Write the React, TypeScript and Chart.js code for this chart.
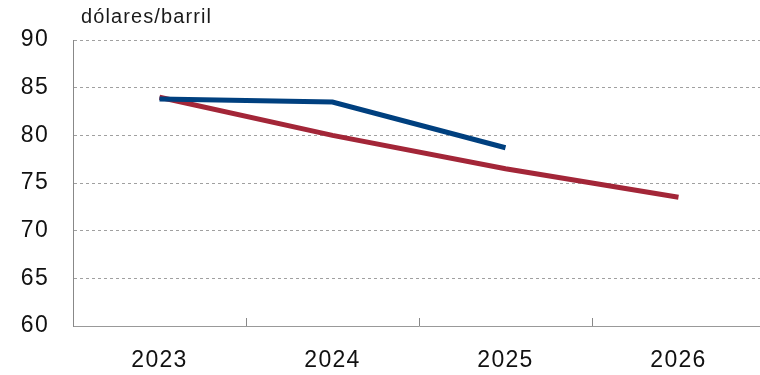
import React, { useEffect, useRef } from "react";
import { Chart, registerables } from "chart.js";

Chart.register(...registerables);

const categories = ["2023", "2024", "2025", "2026"];
const blueSeries = [83.8, 83.5, 78.7, null];
const redSeries = [84.0, 80.0, 76.5, 73.5];
const yTicks = [60, 65, 70, 75, 80, 85, 90];
const unitLabel = "dólares/barril";

const FONT = "'Liberation Sans', Arial, Helvetica, sans-serif";
const SPACING = "1.3px";

const spacingPlugin = {
  id: "spacing",
  beforeDraw(chart: any) {
    (chart.ctx as any).letterSpacing = SPACING;
  },
};

const extrasPlugin = {
  id: "extras",
  afterDraw(chart: any) {
    const { ctx, chartArea, scales } = chart;
    const x = scales.x;
    ctx.save();
    ctx.strokeStyle = "#888";
    ctx.lineWidth = 1;
    for (let i = 1; i < categories.length; i++) {
      const px = Math.round(x.getPixelForValue(i - 0.5)) + 0.5;
      ctx.beginPath();
      ctx.moveTo(px, chartArea.bottom);
      ctx.lineTo(px, chartArea.bottom - 8);
      ctx.stroke();
    }
    (ctx as any).letterSpacing = "1.1px";
    ctx.fillStyle = "#1a1a1a";
    ctx.font = "20px " + FONT;
    ctx.textBaseline = "alphabetic";
    ctx.textAlign = "left";
    ctx.fillText(unitLabel, chartArea.left + 8, chartArea.top - 17);
    ctx.restore();
  },
};

export default function App() {
  const ref = useRef<HTMLCanvasElement | null>(null);
  useEffect(() => {
    if (!ref.current) return;
    const chart = new Chart(ref.current, {
      type: "line",
      data: {
        labels: categories,
        datasets: [
          {
            data: blueSeries,
            borderColor: "#00407f",
            borderWidth: 5,
            pointRadius: 0,
            tension: 0,
            fill: false,
          },
          {
            data: redSeries,
            borderColor: "#a32638",
            borderWidth: 5,
            pointRadius: 0,
            tension: 0,
            fill: false,
          },
        ],
      },
      options: {
        responsive: false,
        animation: false,
        layout: { padding: { top: 40, right: 5, left: 0, bottom: 0 } },
        plugins: { legend: { display: false }, tooltip: { enabled: false }, title: { display: false } },
        scales: {
          x: {
            offset: true,
            grid: { display: false, drawTicks: false },
            border: { display: true, color: "#999", width: 1 },
            ticks: { color: "#111", font: { family: FONT, size: 23 }, padding: 21 },
            afterFit: (s: any) => {
              s.height = 49;
            },
          },
          y: {
            min: 60,
            max: 90,
            afterBuildTicks: (s: any) => {
              s.ticks = yTicks.map((v) => ({ value: v }));
            },
            grid: {
              color: "#a0a0a0",
              lineWidth: 1,
              drawTicks: false,
            },
            border: { display: true, color: "#888", width: 1, dash: [3, 3] },
            ticks: { color: "#111", font: { family: FONT, size: 23 }, padding: 24 },
            afterFit: (s: any) => {
              s.width = 73;
            },
          },
        },
      },
      plugins: [spacingPlugin, extrasPlugin],
    });
    return () => chart.destroy();
  }, []);
  return (
    <div style={{ position: "fixed", left: 0, top: 0, width: 760, height: 375, overflow: "hidden", background: "#fff" }}>
      <canvas ref={ref} width={770} height={375} style={{ width: 770, height: 375, display: "block" }} />
    </div>
  );
}
